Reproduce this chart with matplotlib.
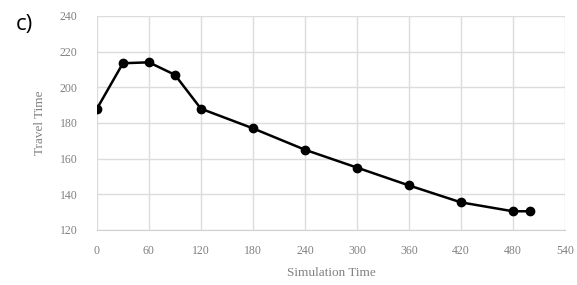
import matplotlib.pyplot as plt

sim_time = [0, 30, 60, 90, 120, 180, 240, 300, 360, 420, 480, 500]
travel_time = [188, 213.5, 214, 207, 188, 177, 165, 155, 145, 135.5, 130.5, 130.5]
x_ticks = [0, 60, 120, 180, 240, 300, 360, 420, 480, 540]
y_ticks = [120, 140, 160, 180, 200, 220, 240]

plt.rcParams['font.family'] = ['Liberation Serif', 'DejaVu Serif']

fig = plt.figure(figsize=(5.77, 2.85), dpi=100)
ax = fig.add_axes([0.168, 0.193, 0.811, 0.751])

ax.plot(sim_time, travel_time, color="black", linewidth=1.8, marker="o", markersize=6)

ax.set_xlim(0, 540)
ax.set_ylim(120, 240)
ax.set_xticks(x_ticks)
ax.set_yticks(y_ticks)
ax.grid(True, color="#dcdcdc", linewidth=1.0)
ax.set_axisbelow(True)
for s in ["top", "right", "left"]:
    ax.spines[s].set_visible(False)
ax.spines["bottom"].set_color("#d0d0d0")
ax.tick_params(axis="x", length=0, labelsize=8.5, labelcolor="#808080", pad=11)
ax.tick_params(axis="y", length=0, labelsize=8.5, labelcolor="#808080", pad=14)

ax.set_xlabel("Simulation Time", fontsize=9.5, color="#808080", labelpad=7)
ax.set_ylabel("Travel Time", fontsize=9.5, color="#808080", labelpad=10)

fig.text(0.028, 0.915, "c)", fontsize=16, color="black", va="center",
         family=["Open Sans", "DejaVu Sans"])

plt.savefig("out.png")
